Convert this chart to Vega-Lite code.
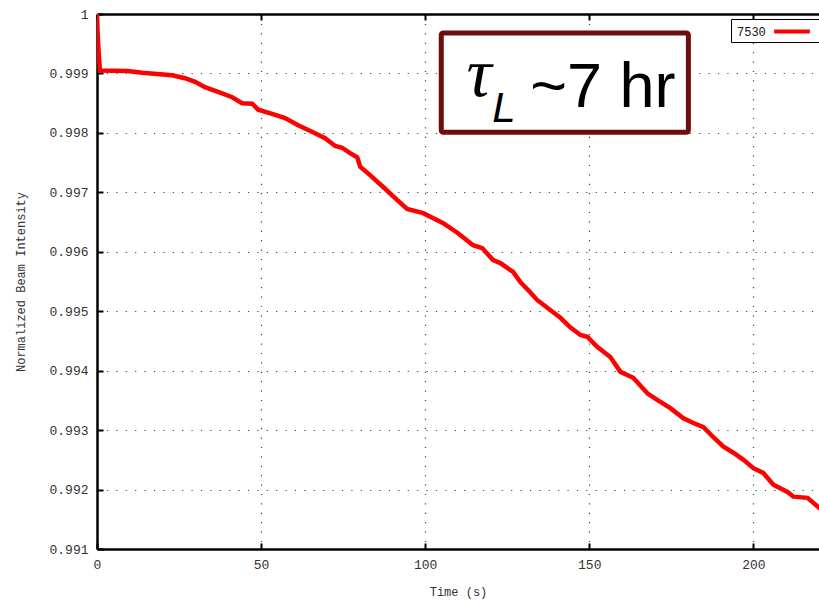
{
  "$schema": "https://vega.github.io/schema/vega-lite/v6.json",
  "width": 722,
  "height": 535,
  "autosize": {"type": "none"},
  "padding": {"left": 97, "top": 14, "right": 0, "bottom": 51},
  "background": "white",
  "config": {
    "view": {"stroke": null},
    "axis": {
      "labelFont": "Liberation Mono",
      "labelFontSize": 13,
      "labelColor": "#333",
      "labelFlush": false,
      "titleFont": "Liberation Mono",
      "titleFontSize": 12,
      "titleFontWeight": "normal",
      "titleColor": "#333",
      "domainColor": "black",
      "domainWidth": 2.5,
      "tickColor": "black",
      "tickWidth": 2,
      "tickSize": -6,
      "gridColor": "#444",
      "gridDash": [1.2, 8.2],
      "gridWidth": 1.2,
      "gridOpacity": 1
    },
    "legend": {
      "orient": "none",
      "legendX": 634,
      "legendY": 5,
      "labelFont": "Liberation Mono",
      "labelFontSize": 12,
      "labelColor": "#111",
      "strokeColor": "black",
      "fillColor": "white",
      "padding": 2,
      "symbolType": "M-2.1,0H2.1",
      "symbolSize": 289,
      "symbolStrokeWidth": 4,
      "symbolOffset": 48.5,
      "labelOffset": -65.5,
      "title": null
    }
  },
  "datasets": {
    "beam": [
      {"t": 0, "v": 1.0, "run": "7530"},
      {"t": 0.15, "v": 0.99972, "run": "7530"},
      {"t": 0.5, "v": 0.99935, "run": "7530"},
      {"t": 0.9, "v": 0.99905, "run": "7530"},
      {"t": 9.4, "v": 0.99904, "run": "7530"},
      {"t": 13.7, "v": 0.99901, "run": "7530"},
      {"t": 22.9, "v": 0.99897, "run": "7530"},
      {"t": 26.8, "v": 0.99892, "run": "7530"},
      {"t": 29.9, "v": 0.99886, "run": "7530"},
      {"t": 32.9, "v": 0.99877, "run": "7530"},
      {"t": 36.9, "v": 0.99869, "run": "7530"},
      {"t": 41.2, "v": 0.9986, "run": "7530"},
      {"t": 44.2, "v": 0.9985, "run": "7530"},
      {"t": 47.3, "v": 0.99849, "run": "7530"},
      {"t": 49.1, "v": 0.99839, "run": "7530"},
      {"t": 53.4, "v": 0.99832, "run": "7530"},
      {"t": 57.3, "v": 0.99825, "run": "7530"},
      {"t": 61.3, "v": 0.99813, "run": "7530"},
      {"t": 65.5, "v": 0.99802, "run": "7530"},
      {"t": 69.5, "v": 0.99791, "run": "7530"},
      {"t": 72.6, "v": 0.99778, "run": "7530"},
      {"t": 74.7, "v": 0.99775, "run": "7530"},
      {"t": 77.1, "v": 0.99766, "run": "7530"},
      {"t": 79.3, "v": 0.99759, "run": "7530"},
      {"t": 80.2, "v": 0.99743, "run": "7530"},
      {"t": 83.2, "v": 0.99729, "run": "7530"},
      {"t": 87.2, "v": 0.99709, "run": "7530"},
      {"t": 91.5, "v": 0.99687, "run": "7530"},
      {"t": 94.5, "v": 0.99672, "run": "7530"},
      {"t": 99.4, "v": 0.99665, "run": "7530"},
      {"t": 105.5, "v": 0.99648, "run": "7530"},
      {"t": 109.8, "v": 0.99632, "run": "7530"},
      {"t": 114.6, "v": 0.99611, "run": "7530"},
      {"t": 117.4, "v": 0.99606, "run": "7530"},
      {"t": 120.7, "v": 0.99586, "run": "7530"},
      {"t": 122.9, "v": 0.99581, "run": "7530"},
      {"t": 126.8, "v": 0.99566, "run": "7530"},
      {"t": 129.0, "v": 0.99549, "run": "7530"},
      {"t": 132.0, "v": 0.99532, "run": "7530"},
      {"t": 134.1, "v": 0.99519, "run": "7530"},
      {"t": 138.1, "v": 0.99502, "run": "7530"},
      {"t": 141.2, "v": 0.99489, "run": "7530"},
      {"t": 144.2, "v": 0.99473, "run": "7530"},
      {"t": 147.3, "v": 0.9946, "run": "7530"},
      {"t": 149.4, "v": 0.99457, "run": "7530"},
      {"t": 152.4, "v": 0.9944, "run": "7530"},
      {"t": 156.4, "v": 0.99423, "run": "7530"},
      {"t": 159.5, "v": 0.99398, "run": "7530"},
      {"t": 163.4, "v": 0.99388, "run": "7530"},
      {"t": 167.7, "v": 0.99362, "run": "7530"},
      {"t": 170.7, "v": 0.99351, "run": "7530"},
      {"t": 174.7, "v": 0.99337, "run": "7530"},
      {"t": 178.7, "v": 0.9932, "run": "7530"},
      {"t": 181.7, "v": 0.99312, "run": "7530"},
      {"t": 184.8, "v": 0.99305, "run": "7530"},
      {"t": 187.8, "v": 0.99288, "run": "7530"},
      {"t": 190.9, "v": 0.99272, "run": "7530"},
      {"t": 193.9, "v": 0.99262, "run": "7530"},
      {"t": 197.0, "v": 0.9925, "run": "7530"},
      {"t": 200.0, "v": 0.99236, "run": "7530"},
      {"t": 203.0, "v": 0.99228, "run": "7530"},
      {"t": 206.1, "v": 0.99208, "run": "7530"},
      {"t": 210.4, "v": 0.99196, "run": "7530"},
      {"t": 212.2, "v": 0.99188, "run": "7530"},
      {"t": 216.5, "v": 0.99186, "run": "7530"},
      {"t": 220.1, "v": 0.99169, "run": "7530"},
      {"t": 222.0, "v": 0.99162, "run": "7530"}
    ]
  },
  "resolve": {"axis": {"x": "independent", "y": "independent"}},
  "layer": [
    {
      "data": {"name": "beam"},
      "mark": {"type": "line", "strokeWidth": 4.5, "clip": true},
      "encoding": {
        "x": {
          "field": "t", "type": "quantitative",
          "scale": {"domain": [0, 220], "nice": false, "zero": false},
          "axis": {"orient": "bottom", "values": [0, 50, 100, 150, 200], "grid": true, "title": "Time (s)", "labelPadding": 15, "titlePadding": 15}
        },
        "y": {
          "field": "v", "type": "quantitative",
          "scale": {"domain": [0.991, 1], "nice": false, "zero": false},
          "axis": {"orient": "left", "values": [0.991, 0.992, 0.993, 0.994, 0.995, 0.996, 0.997, 0.998, 0.999, 1], "format": ".3~f", "grid": true, "title": "Normalized Beam Intensity", "labelPadding": 15, "titlePadding": 21}
        },
        "color": {"field": "run", "type": "nominal", "scale": {"range": ["#ff0000"]}}
      }
    },
    {
      "data": {"values": [{}]},
      "mark": {"type": "rect", "fill": "white", "stroke": "#6e0d0d", "strokeWidth": 5, "cornerRadius": 2},
      "encoding": {
        "x": {"datum": 104.9, "type": "quantitative", "axis": {"orient": "top", "values": [0, 50, 100, 150, 200], "labels": false, "grid": false, "title": null}},
        "x2": {"datum": 180.2},
        "y": {"datum": 0.99968, "type": "quantitative", "axis": null},
        "y2": {"datum": 0.99801}
      }
    },
    {
      "data": {"values": [{}]},
      "mark": {"type": "text", "text": "τ", "font": "Liberation Serif", "fontStyle": "italic", "fontSize": 70, "align": "left", "baseline": "alphabetic", "color": "black"},
      "encoding": {
        "x": {"datum": 112.6, "type": "quantitative", "axis": null},
        "y": {"datum": 0.99862, "type": "quantitative", "axis": null}
      }
    },
    {
      "data": {"values": [{}]},
      "mark": {"type": "text", "text": "L", "font": "Liberation Sans", "fontStyle": "italic", "fontSize": 42, "align": "left", "baseline": "alphabetic", "color": "black"},
      "encoding": {
        "x": {"datum": 120.4, "type": "quantitative", "axis": null},
        "y": {"datum": 0.99818, "type": "quantitative", "axis": null}
      }
    },
    {
      "data": {"values": [{}]},
      "mark": {"type": "text", "text": "~7 hr", "font": "Liberation Sans", "fontSize": 63, "align": "left", "baseline": "alphabetic", "color": "black"},
      "encoding": {
        "x": {"datum": 132.0, "type": "quantitative", "axis": null},
        "y": {"datum": 0.998436, "type": "quantitative", "axis": null}
      }
    }
  ]
}
